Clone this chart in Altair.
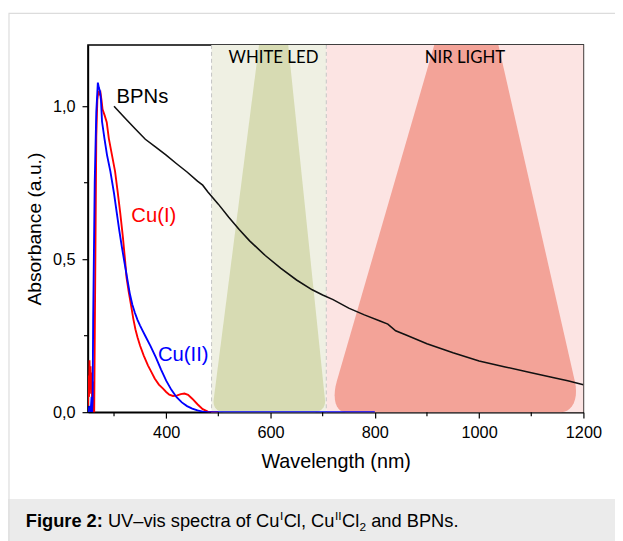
import math
import altair as alt
import pandas as pd

# ---------------- data ----------------
bpn_wl = [300, 320, 340, 360, 380, 400, 420, 440, 460, 470, 480, 500, 520, 540, 560, 590,
          620, 650, 680, 700, 720, 750, 780, 810, 825, 840, 860, 900, 950, 1000, 1050,
          1100, 1150, 1170, 1200]
bpn_abs = [1.00, 0.963, 0.927, 0.892, 0.866, 0.840, 0.812, 0.785, 0.755, 0.742, 0.72,
           0.68, 0.637, 0.597, 0.56, 0.512, 0.47, 0.432, 0.40, 0.383, 0.368, 0.34, 0.318,
           0.298, 0.288, 0.266, 0.252, 0.224, 0.194, 0.167, 0.148, 0.129, 0.11, 0.103, 0.09]

cu1_wl = [250, 251, 252, 253, 254, 255, 256, 257, 258, 259, 260, 261, 262, 264, 266, 268,
          270, 272, 274, 276, 278, 282, 286, 290, 296, 302, 307, 312, 317, 321, 324, 328,
          333, 337, 341, 345, 350, 357, 365, 372, 378, 386, 394, 400, 406, 413, 420, 428,
          435, 442, 450, 460, 470, 480, 490, 500]
cu1_abs = [0.02, 0.12, 0.05, 0.17, 0.08, 0.15, 0.06, 0.13, 0.03, 0.10, 0.02, 0.0, 0.0,
           0.45, 0.90, 1.02, 1.05, 1.04, 1.045, 1.02, 0.99, 0.97, 0.948, 0.895, 0.841,
           0.787, 0.72, 0.65, 0.572, 0.50, 0.44, 0.395, 0.346, 0.305, 0.271, 0.245, 0.217,
           0.185, 0.153, 0.13, 0.11, 0.09, 0.077, 0.066, 0.057, 0.053, 0.054, 0.059, 0.061,
           0.057, 0.044, 0.026, 0.01, 0.002, 0.0, 0.0]

cu2_wl = [250, 253, 255, 257, 258, 259, 260, 263, 266, 269, 271, 273, 275, 277, 281.6,
          286.5, 293, 300, 305, 310, 315, 320, 325, 330, 335, 340, 345, 350, 355, 360, 370,
          380, 390, 400, 410, 420, 430, 440, 450, 460, 470, 480, 800]
cu2_abs = [0.0, 0.02, 0.0, 0.05, 0.0, 0.04, 0.30, 0.75, 0.98, 1.077, 1.06, 1.05, 1.02,
           0.95, 0.895, 0.841, 0.787, 0.715, 0.655, 0.595, 0.54, 0.49, 0.44, 0.39, 0.352,
           0.325, 0.302, 0.283, 0.266, 0.249, 0.216, 0.18, 0.14, 0.103, 0.073, 0.049, 0.032,
           0.02, 0.012, 0.006, 0.002, 0.0, 0.0]

x_major = [400, 600, 800, 1000, 1200]
x_minor = [300, 500, 700, 900, 1100]
y_major = [0.0, 0.5, 1.0]
y_minor = [0.25, 0.75]

led_band = [487, 707]
nir_band = [707, 1200]
led_cone_bottom = [488, 707]
led_cone_top = [578, 634]
nir_cone_bottom = [710, 1197]
nir_cone_top = [914, 1037]
cone_top_level = 1.2

# ---------------- layout ----------------
W, H = 502, 372
FONT = "Liberation Sans"

xscale = alt.Scale(domain=[250, 1200], nice=False, zero=False)
yscale = alt.Scale(domain=[0, 1.2], nice=False, zero=False)

x_axis = alt.Axis(values=x_major, format="d", title="Wavelength (nm)", grid=False,
                  tickSize=6, tickWidth=1.2, tickColor="black", domainColor="black",
                  domainWidth=1.5, labelFont=FONT, labelFontSize=16.5, labelColor="black",
                  labelPadding=7, titleFont=FONT, titleFontSize=20, titleFontWeight="normal",
                  titleColor="black", titlePadding=11, labelFlush=False, labelOverlap=False)
y_axis = alt.Axis(values=y_major, labelExpr="replace(format(datum.value, '.1f'), '.', ',')",
                  title="Absorbance (a.u.)", grid=False, tickSize=6, tickWidth=1.2,
                  tickColor="black", domainColor="black", domainWidth=1.5, labelFont=FONT,
                  labelFontSize=16.5, labelColor="black", labelPadding=7, titleFont=FONT,
                  titleFontSize=19.5, titleFontWeight="normal", titleColor="black",
                  titlePadding=8, labelFlush=False, labelOverlap=False)

X = lambda f: alt.X(f, type="quantitative", scale=xscale, axis=x_axis)
Y = lambda f: alt.Y(f, type="quantitative", scale=yscale, axis=y_axis)


def cone_df(bottom, top, ytop, rxl, rxr, ry, n=10):
    pts = []
    for i in range(n + 1):
        phi = (math.pi / 2) * i / n
        pts.append((ry * (1 - math.sin(phi)), 1 - math.cos(phi)))
    rows = []
    for y, f in sorted(pts):
        l = bottom[0] + (top[0] - bottom[0]) * y / ytop + rxl * f
        r = bottom[1] + (top[1] - bottom[1]) * y / ytop - rxr * f
        rows.append({"a": y, "left": l, "right": r})
    rows.append({"a": ytop, "left": top[0], "right": top[1]})
    return pd.DataFrame(rows)


def one(text=""):
    return pd.DataFrame({"t": [text]})


layers = []

# outer figure border and caption bar
layers.append(alt.Chart(one()).mark_rect(fill="#ebebeb").encode(
    x=alt.value(-81), x2=alt.value(540), y=alt.value(460), y2=alt.value(510)))
layers.append(alt.Chart(one()).mark_rect(fill=None, stroke="#dcdcdc", strokeWidth=1.2).encode(
    x=alt.value(-80), x2=alt.value(600), y=alt.value(-32), y2=alt.value(600)))

# background bands
bands = pd.DataFrame({"x0": [led_band[0], nir_band[0]], "x1": [led_band[1], nir_band[1]],
                      "k": ["led", "nir"]})
layers.append(alt.Chart(bands).mark_rect().encode(
    x=X("x0"), x2="x1", y=alt.value(0), y2=alt.value(H),
    color=alt.Color("k:N", scale=alt.Scale(domain=["led", "nir"], range=["#eff0e3", "#fce4e3"]),
                    legend=None)))

# cones
led = cone_df(led_cone_bottom, led_cone_top, cone_top_level, 22, 22, 0.04)
nir = cone_df(nir_cone_bottom, nir_cone_top, cone_top_level, 34, 40, 0.10)
layers.append(alt.Chart(led).mark_area(orient="horizontal", color="#d7dbb3", clip=True).encode(
    y=Y("a"), x=X("left"), x2="right"))
layers.append(alt.Chart(nir).mark_area(orient="horizontal", color="#f3a398", clip=True).encode(
    y=Y("a"), x=X("left"), x2="right"))

# dashed boundaries
layers.append(alt.Chart(pd.DataFrame({"wl": [led_band[0], led_band[1]]})).mark_rule(
    color="#c4c4c4", strokeDash=[4, 3], strokeWidth=1).encode(x=X("wl")))

# curves
df_bpn = pd.DataFrame({"wl": bpn_wl, "a": bpn_abs})
df_cu1 = pd.DataFrame({"wl": cu1_wl, "a": cu1_abs})
df_cu2 = pd.DataFrame({"wl": cu2_wl, "a": cu2_abs})
layers.append(alt.Chart(df_bpn).mark_line(color="#111111", strokeWidth=1.6, clip=True).encode(
    x=X("wl"), y=Y("a")))
layers.append(alt.Chart(df_cu1).mark_line(color="#ff0000", strokeWidth=1.9, clip=True).encode(
    x=X("wl"), y=Y("a")))
layers.append(alt.Chart(df_cu2).mark_line(color="#0000ff", strokeWidth=1.9, clip=True).encode(
    x=X("wl"), y=Y("a")))

# minor ticks
layers.append(alt.Chart(pd.DataFrame({"wl": x_minor})).mark_rule(color="black", strokeWidth=1.2).encode(
    x=X("wl"), y=alt.value(H), y2=alt.value(H + 4)))
layers.append(alt.Chart(pd.DataFrame({"a": y_minor})).mark_rule(color="black", strokeWidth=1.2).encode(
    y=Y("a"), x=alt.value(-4), x2=alt.value(0)))


# annotations inside the plot
def label(text, x, y, color, size, align="left", font=FONT):
    return alt.Chart(one(text)).mark_text(align=align, baseline="middle", font=font,
                                          fontSize=size, color=color).encode(
        text="t:N", x=alt.value(x), y=alt.value(y))


layers.append(label("BPNs", 29, 53, "black", 20.5))
layers.append(label("Cu(I)", 44, 173, "#ff0000", 20.5))
layers.append(label("Cu(II)", 71, 314, "#0000ff", 20.5))
layers.append(label("WHITE LED", 188, 13, "black", 17, align="center", font="Lato"))
layers.append(label("NIR LIGHT", 382, 13, "black", 17, align="center", font="Lato"))


# caption
def cap(text, x, y, size=18.5, weight="normal"):
    return alt.Chart(one(text)).mark_text(align="left", baseline="alphabetic", font=FONT,
                                          fontSize=size, fontWeight=weight, color="black").encode(
        text="t:N", x=alt.value(x), y=alt.value(y))


CY = 488
OX = 89
layers.append(cap("Figure 2:", 26 - OX, CY, weight="bold"))
layers.append(cap("UV\u2013vis spectra of Cu", 109.2 - OX, CY))
layers.append(cap("I", 283.5 - OX, CY - 7, size=12))
layers.append(cap("Cl, Cu", 287.3 - OX, CY))
layers.append(cap("II", 339.2 - OX, CY - 7, size=12))
layers.append(cap("Cl", 346.4 - OX, CY))
layers.append(cap("2", 364.2 - OX, CY + 4, size=12))
layers.append(cap("and BPNs.", 376 - OX, CY))

chart = alt.layer(*layers).properties(
    width=W, height=H,
    autosize=alt.AutoSizeParams(type="none"),
    padding={"left": 81, "top": 34, "right": 32, "bottom": 127},
    background="white",
).configure_view(stroke="black", strokeWidth=1.5)

chart.save("out.html", embed_options={"renderer": "svg", "actions": False})
